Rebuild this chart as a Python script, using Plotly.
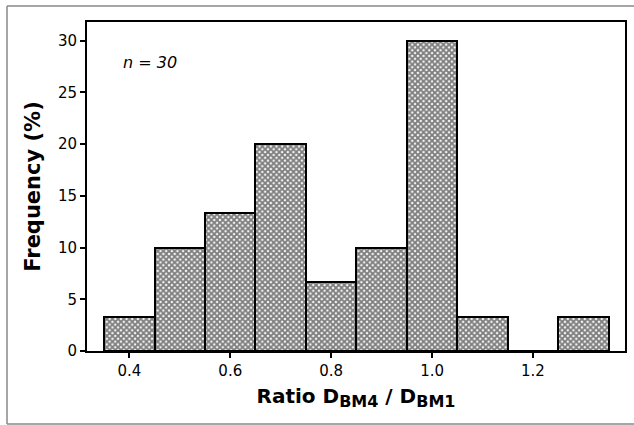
import plotly.graph_objects as go

bin_centers = [0.4, 0.5, 0.6, 0.7, 0.8, 0.9, 1.0, 1.1, 1.2, 1.3]
frequency = [3.33, 10.0, 13.33, 20.0, 6.67, 10.0, 30.0, 3.33, 0.0, 3.33]
x_ticks = [0.4, 0.6, 0.8, 1.0, 1.2]
x_tick_labels = ["0.4", "0.6", "0.8", "1.0", "1.2"]
y_ticks = [0, 5, 10, 15, 20, 25, 30]

fig = go.Figure()
fig.add_trace(go.Bar(
    x=bin_centers, y=frequency, width=0.1,
    marker=dict(
        color="white",
        line=dict(color="black", width=2),
        pattern=dict(shape="x", fgcolor="black", bgcolor="white", size=4, solidity=0.72),
    ),
    showlegend=False,
))

L, R, T, B = 87, 9, 22, 74
W, H = 634, 425
pw, ph = W - L - R, H - T - B

bx0 = (7 - L) / pw
bx1 = (W + 30 - L) / pw
by0 = (H - B - 424) / ph
by1 = (H - B - 6) / ph
border = dict(color="#888888", width=1.5)

sub = '<sub><span style="font-size:16px">{}</span></sub>'
fig.update_layout(
    width=W, height=H,
    margin=dict(l=L, r=R, t=T, b=B, autoexpand=False),
    paper_bgcolor="white", plot_bgcolor="white",
    font=dict(family="DejaVu Sans", color="black", size=15),
    bargap=0,
    xaxis=dict(
        range=[0.316, 1.3825], tickvals=x_ticks, ticktext=x_tick_labels,
        showline=True, linecolor="black", linewidth=2, mirror=True,
        ticks="outside", ticklen=5, tickwidth=1.5, tickcolor="black",
        showgrid=False, zeroline=False, automargin=False,
        tickfont=dict(size=15, family="DejaVu Sans"),
        title=dict(text="<b>Ratio D" + sub.format("BM4") + " / D" + sub.format("BM1") + "</b>",
                   font=dict(size=20, family="DejaVu Sans"), standoff=10),
    ),
    yaxis=dict(
        range=[0, 31.8], tickvals=y_ticks,
        showline=True, linecolor="black", linewidth=2, mirror=True,
        ticks="outside", ticklen=5, tickwidth=1.5, tickcolor="black",
        showgrid=False, zeroline=False, automargin=False,
        tickfont=dict(size=15, family="DejaVu Sans"),
        title=dict(text="<b>Frequency (%)</b>",
                   font=dict(size=21, family="DejaVu Sans"), standoff=12),
    ),
    annotations=[dict(
        x=0.44, y=27.9, xref="x", yref="y", showarrow=False,
        text="<i>n = 30</i>", font=dict(size=16, family="DejaVu Sans"),
    )],
    shapes=[
        dict(type="line", xref="paper", yref="paper", x0=bx0, x1=bx0, y0=by0, y1=by1, line=border, layer="below"),
        dict(type="line", xref="paper", yref="paper", x0=bx0, x1=bx1, y0=by1, y1=by1, line=border, layer="below"),
        dict(type="line", xref="paper", yref="paper", x0=bx0, x1=bx1, y0=by0, y1=by0, line=border, layer="below"),
    ],
)

fig.write_html("out.html", config={"displayModeBar": False},
               post_script="document.body.style.margin='0';")
